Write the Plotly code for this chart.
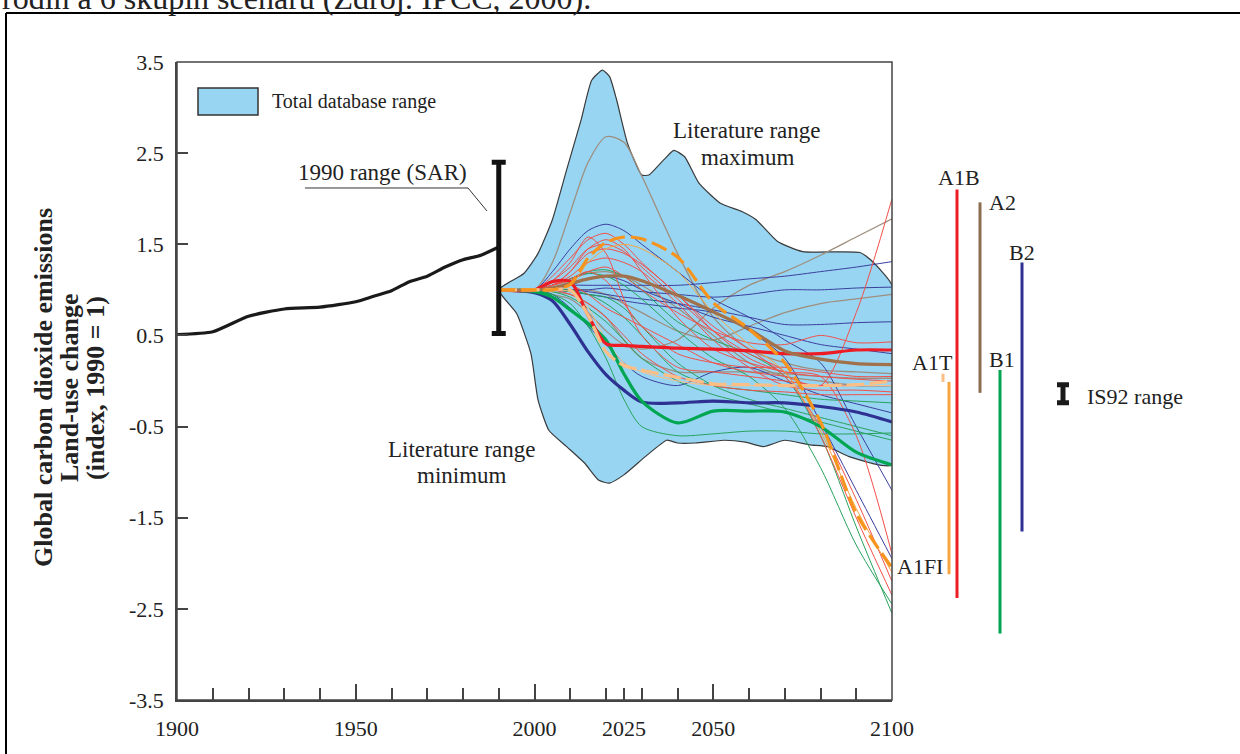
import plotly.graph_objects as go

# ---------------- DATA ----------------
HIST_YEARS = [1900, 1910, 1920, 1930, 1940, 1950, 1955, 1960, 1965, 1970, 1975, 1980, 1985, 1990]
HIST_VALUES = [0.51, 0.54, 0.71, 0.79, 0.81, 0.87, 0.93, 0.99, 1.09, 1.15, 1.25, 1.33, 1.38, 1.47]

RANGE_UPPER_YEARS = [1990, 1997, 2001, 2005, 2009, 2013, 2016, 2019, 2021, 2023, 2026, 2030, 2032, 2036,
                     2039, 2042, 2046, 2052, 2058, 2062, 2068, 2075, 2091, 2094, 2100]
RANGE_UPPER = [1.0, 1.18, 1.40, 1.77, 2.32, 2.86, 3.30, 3.41, 3.34, 3.08, 2.61, 2.26, 2.26, 2.42,
               2.53, 2.46, 2.17, 1.95, 1.86, 1.77, 1.53, 1.42, 1.41, 1.33, 1.05]
RANGE_LOWER_YEARS = [1990, 1995, 1999, 2001, 2004, 2009, 2014, 2018, 2021, 2025, 2031, 2037, 2040, 2045,
                     2053, 2059, 2064, 2070, 2077, 2082, 2088, 2100]
RANGE_LOWER = [1.0, 0.74, 0.30, -0.21, -0.54, -0.72, -0.90, -1.09, -1.12, -1.03, -0.83, -0.65, -0.68, -0.68,
               -0.65, -0.67, -0.72, -0.65, -0.70, -0.72, -0.83, -0.92]

SCEN_YEARS = [1990, 2000, 2005, 2010, 2015, 2020, 2025, 2030, 2040, 2050, 2060, 2070, 2080, 2090, 2100]

A1B_MARKER = [1.0, 1.0, 1.09, 1.09, 0.72, 0.41, 0.39, 0.38, 0.36, 0.35, 0.33, 0.30, 0.30, 0.34, 0.34]
A2_MARKER = [1.0, 1.0, 1.02, 1.07, 1.12, 1.15, 1.15, 1.10, 0.94, 0.76, 0.57, 0.33, 0.24, 0.19, 0.18]
B2_MARKER = [1.0, 0.97, 0.88, 0.62, 0.32, 0.07, -0.10, -0.23, -0.24, -0.22, -0.24, -0.24, -0.28, -0.34, -0.45]
B1_MARKER = [1.0, 0.98, 0.92, 0.78, 0.63, 0.45, 0.08, -0.22, -0.46, -0.33, -0.33, -0.34, -0.50, -0.78, -0.92]
A1FI_MARKER = [1.0, 1.0, 1.0, 1.06, 1.35, 1.52, 1.58, 1.56, 1.36, 0.86, 0.57, 0.20, -0.45, -1.45, -2.05]
A1T_MARKER = [1.0, 1.0, 1.0, 1.0, 0.72, 0.32, 0.17, 0.12, 0.04, -0.03, -0.04, -0.05, -0.05, -0.04, 0.0]

A1B_THIN = [
    [1, 1, 1.15, 1.35, 1.55, 1.62, 1.50, 1.30, 0.95, 0.60, 0.35, 0.05, -0.50, -1.30, -2.20],
    [1, 1, 1.10, 1.30, 1.58, 1.40, 0.90, 0.50, 0.15, 0.10, 0.05, 0.00, -0.05, -0.05, -0.05],
    [1, 1, 1.05, 1.20, 1.40, 1.45, 1.40, 1.28, 0.95, 0.55, 0.25, 0.10, 0.05, 0.02, 0.00],
    [1, 1, 1.05, 1.15, 1.30, 1.35, 1.30, 1.20, 0.85, 0.45, 0.15, -0.05, -0.10, -0.10, -0.12],
    [1, 1, 1.02, 1.05, 0.95, 0.80, 0.70, 0.60, 0.40, 0.20, 0.10, 0.05, -0.05, 0.75, 2.00],
    [1, 1, 1.05, 1.10, 1.20, 1.25, 1.15, 1.00, 0.75, 0.55, 0.42, 0.40, 0.50, 0.42, 0.43],
    [1, 1, 1.00, 0.95, 0.85, 0.70, 0.50, 0.30, 0.05, -0.05, -0.10, -0.12, -0.15, -0.15, -0.15],
    [1, 1, 1.10, 1.25, 1.45, 1.50, 1.42, 1.25, 0.90, 0.55, 0.30, 0.10, -0.60, -1.50, -2.35],
    [1, 1, 1.05, 1.12, 1.20, 1.10, 0.85, 0.60, 0.30, 0.20, 0.15, 0.15, 0.10, 0.05, 0.05],
    [1, 1, 1.05, 1.20, 1.45, 1.55, 1.45, 1.20, 0.70, 0.35, 0.20, 0.10, 0.05, -0.60, -1.90],
]
A2_THIN = [
    [1, 1, 1.30, 1.85, 2.40, 2.68, 2.62, 2.25, 1.40, 0.70, 0.35, 0.20, 0.12, 0.10, 0.08],
    [1, 1, 0.95, 0.90, 0.75, 0.55, 0.40, 0.35, 0.45, 0.80, 1.05, 1.20, 1.38, 1.58, 1.78],
    [1, 1, 1.00, 1.00, 1.00, 0.95, 0.85, 0.75, 0.55, 0.45, 0.60, 0.75, 0.85, 0.90, 0.95],
    [1, 1, 1.05, 1.12, 1.18, 1.20, 1.15, 1.05, 0.80, 0.50, 0.20, 0.05, 0.00, -0.05, -0.05],
    [1, 1, 0.98, 0.95, 0.85, 0.70, 0.45, 0.25, 0.10, 0.10, 0.10, 0.08, 0.05, 0.03, 0.03],
]
B2_THIN = [
    [1, 1, 1.20, 1.45, 1.65, 1.72, 1.65, 1.50, 1.20, 0.90, 0.70, 0.45, 0.20, -0.50, -1.20],
    [1, 1, 1.02, 1.05, 1.05, 1.05, 1.05, 1.05, 1.05, 1.08, 1.12, 1.15, 1.20, 1.25, 1.31],
    [1, 1, 1.00, 1.00, 1.00, 1.02, 1.00, 0.98, 0.95, 0.92, 0.95, 1.00, 1.00, 1.02, 1.03],
    [1, 1, 1.00, 1.00, 0.98, 0.95, 0.92, 0.90, 0.85, 0.78, 0.70, 0.62, 0.62, 0.64, 0.65],
    [1, 1, 1.00, 0.98, 0.95, 0.92, 0.88, 0.85, 0.80, 0.75, 0.55, 0.25, -0.45, -1.20, -1.95],
    [1, 1, 0.95, 0.80, 0.60, 0.40, 0.20, 0.05, -0.05, 0.10, 0.15, 0.00, -0.15, -0.25, -0.35],
    [1, 1, 1.00, 1.05, 1.12, 1.15, 1.10, 1.00, 0.85, 0.70, 0.60, 0.50, 0.40, 0.35, 0.30],
]
B1_THIN = [
    [1, 1, 1.05, 1.12, 1.20, 1.22, 1.15, 1.00, 0.65, 0.45, 0.30, 0.05, -0.60, -1.60, -2.55],
    [1, 1, 0.95, 0.85, 0.60, 0.25, -0.20, -0.50, -0.60, -0.58, -0.55, -0.55, -0.58, -0.58, -0.57],
    [1, 1, 1.00, 0.98, 0.95, 0.85, 0.70, 0.50, 0.10, -0.05, -0.10, -0.15, -0.20, -0.22, -0.24],
    [1, 1, 1.05, 1.12, 1.18, 1.15, 1.05, 0.90, 0.55, 0.25, 0.05, -0.30, -0.95, -1.80, -2.45],
    [1, 1, 0.98, 0.92, 0.80, 0.65, 0.45, 0.25, 0.00, -0.15, -0.25, -0.35, -0.45, -0.55, -0.65],
    [1, 1, 1.00, 1.00, 0.95, 0.92, 0.80, 0.60, 0.20, -0.05, -0.20, -0.30, -0.40, -0.50, -0.60],
]
A1FI_THIN = [
    [1, 1, 1.00, 1.05, 1.30, 1.45, 1.50, 1.45, 1.20, 0.75, 0.40, 0.10, -0.55, -1.40, -2.10],
]
A1T_THIN = [
    [1, 1, 1.00, 0.98, 0.80, 0.45, 0.20, 0.10, 0.00, -0.05, -0.05, -0.05, -0.06, -0.05, -0.05],
]

SAR_1990_RANGE = [0.52, 2.40]          # 1990 range (SAR)
IS92_RANGE = [-0.24, -0.04]            # IS92 range
GROUP_NAMES = ["A1T", "A1FI", "A1B", "A2", "B1", "B2"]
GROUP_LOW = [-0.01, -2.12, -2.38, -0.13, -2.77, -1.65]
GROUP_HIGH = [0.08, -0.01, 2.10, 1.96, 0.12, 1.30]

X_TICKS = [1900, 1910, 1920, 1930, 1940, 1950, 1960, 1970, 1980, 1990, 2000, 2010, 2020, 2025,
           2030, 2040, 2050, 2060, 2070, 2080, 2090, 2100]
X_LABELED = [1900, 1950, 2000, 2025, 2050, 2100]
X_LONG_TICKS = [1950, 2000, 2050]
Y_TICKS = [3.5, 2.5, 1.5, 0.5, -0.5, -1.5, -2.5, -3.5]
Y_LABELS = ["3.5", "2.5", "1.5", "0.5", "-0.5", "-1.5", "-2.5", "-3.5"]

# ---------------- STYLE / LAYOUT ----------------
W, H = 1240, 754
ML, MT, MB = 177, 62, 54
PLOT_RIGHT = 892
FONT = "Liberation Serif"
TXT = "#222222"
AX = "#444444"

# horizontal column offsets (px right of plot edge) for the group range bars
GROUP_POS = [51, 57, 65, 88, 108, 130]
GROUP_COL = ["#fbbf86", "#f7a541", "#ed1c24", "#8c6d4f", "#00a651", "#2e3192"]
IS92_POS = 171


def px(x):
    return (x - ML) / (W - ML)


def py(y):
    return (H - MB - y) / (H - MT - MB)


fig = go.Figure()

# total database range
fig.add_trace(go.Scatter(
    x=RANGE_UPPER_YEARS + RANGE_LOWER_YEARS[::-1],
    y=RANGE_UPPER + RANGE_LOWER[::-1],
    fill="toself", fillcolor="#98d5f2", mode="lines",
    line=dict(color="#3a3a3a", width=1.2, shape="spline", smoothing=0.5),
    hoverinfo="skip", showlegend=False))

thin_sets = [
    (A2_THIN, "#9e8e7e", 1.3),
    (B2_THIN, "#3b3f9e", 1.0),
    (B1_THIN, "#27a35c", 1.0),
    (A1B_THIN, "#f2504a", 1.0),
    (A1FI_THIN, "#f7a541", 1.0),
    (A1T_THIN, "#fbbf86", 1.0),
]
for lines, col, wid in thin_sets:
    for vals in lines:
        fig.add_trace(go.Scatter(x=SCEN_YEARS, y=vals, mode="lines",
                                 line=dict(color=col, width=wid, shape="spline", smoothing=0.8),
                                 hoverinfo="skip", showlegend=False))

markers = [
    (B2_MARKER, "#2e3192", None),
    (B1_MARKER, "#00a651", None),
    (A1B_MARKER, "#ed1c24", None),
    (A2_MARKER, "#a0714a", None),
    (A1T_MARKER, "#fbbf86", "18px,5px"),
    (A1FI_MARKER, "#f7941d", "16px,6px"),
]
for vals, col, dash in markers:
    fig.add_trace(go.Scatter(x=SCEN_YEARS, y=vals, mode="lines",
                             line=dict(color=col, width=3.2, shape="spline", smoothing=0.8,
                                       dash=dash if dash else "solid"),
                             hoverinfo="skip", showlegend=False))

# historical line
fig.add_trace(go.Scatter(x=HIST_YEARS, y=HIST_VALUES, mode="lines",
                         line=dict(color="#1a1a1a", width=3.2, shape="spline", smoothing=0.6),
                         hoverinfo="skip", showlegend=False))

# 1990 SAR range bar
mid = (SAR_1990_RANGE[0] + SAR_1990_RANGE[1]) / 2
fig.add_trace(go.Scatter(
    x=[1990], y=[mid], mode="markers", marker=dict(size=1, color="rgba(0,0,0,0)"),
    error_y=dict(type="data", symmetric=False, array=[SAR_1990_RANGE[1] - mid],
                 arrayminus=[mid - SAR_1990_RANGE[0]], width=7, thickness=5, color="#111111"),
    hoverinfo="skip", showlegend=False, cliponaxis=False))

# group range bars on right (x2)
for pos, lo, hi, col in zip(GROUP_POS, GROUP_LOW, GROUP_HIGH, GROUP_COL):
    fig.add_trace(go.Scatter(x=[pos, pos], y=[lo, hi], mode="lines", xaxis="x2", yaxis="y",
                             line=dict(color=col, width=3), hoverinfo="skip", showlegend=False))

mid92 = (IS92_RANGE[0] + IS92_RANGE[1]) / 2
fig.add_trace(go.Scatter(
    x=[IS92_POS], y=[mid92], mode="markers", xaxis="x2", yaxis="y",
    marker=dict(size=1, color="rgba(0,0,0,0)"),
    error_y=dict(type="data", symmetric=False, array=[IS92_RANGE[1] - mid92],
                 arrayminus=[mid92 - IS92_RANGE[0]], width=6, thickness=5, color="#1a1a1a"),
    hoverinfo="skip", showlegend=False))

# dummy trace for long-tick overlay axis
fig.add_trace(go.Scatter(x=[None], y=[None], xaxis="x3", yaxis="y", showlegend=False, hoverinfo="skip"))

xdom = (PLOT_RIGHT - ML) / (W - ML)

ann = []


def text(x, y, s, size=23, xanchor="center", yanchor="middle", bold=False, angle=0):
    ann.append(dict(x=px(x), y=py(y), xref="paper", yref="paper", text=("<b>%s</b>" % s) if bold else s,
                    showarrow=False, xanchor=xanchor, yanchor=yanchor, textangle=angle,
                    font=dict(family=FONT, size=size, color=TXT)))


text(0, -2, "rodin a 6 skupin scénářů (Zdroj: IPCC, 2000).", size=32, xanchor="left")
text(270, 101, "Total database range", size=20, xanchor="left")
text(382, 173, "1990 range (SAR)")
text(747, 130, "Literature range")
text(747, 157, "maximum")
text(462, 449, "Literature range")
text(462, 476, "minimum")
text(959, 178, "A1B", size=22)
text(987, 202, "A2", size=22, xanchor="left")
text(1022, 253, "B2", size=22)
text(1002, 359, "B1", size=22)
text(932, 362, "A1T", size=22)
text(920, 566, "A1FI", size=22)
text(1085, 396, "IS92 range", size=22, xanchor="left")
text(43, 388, "Global carbon dioxide emissions", size=26, bold=True, angle=-90)
text(69, 388, "Land-use change", size=26, bold=True, angle=-90)
text(95, 388, "(index, 1990 = 1)", size=26, bold=True, angle=-90)

shapes = [
    # plot frame
    dict(type="rect", xref="x domain", yref="y domain", x0=0, x1=1, y0=0, y1=1,
         line=dict(color=AX, width=1.5)),
    # legend swatch
    dict(type="rect", xref="paper", yref="paper", x0=px(198), x1=px(258), y0=py(115), y1=py(88),
         fillcolor="#98d5f2", line=dict(color="#333333", width=1.5)),
    # SAR leader line
    dict(type="path", xref="paper", yref="paper",
         path="M %f,%f L %f,%f L %f,%f" % (px(305), py(188), px(468), py(188), px(487), py(211)),
         line=dict(color="#333333", width=1)),
    # outer frame of the page
    dict(type="line", xref="paper", yref="paper", x0=px(6), x1=px(1240), y0=py(13), y1=py(13),
         line=dict(color="#000000", width=2)),
    dict(type="line", xref="paper", yref="paper", x0=px(6), x1=px(6), y0=py(13), y1=py(760),
         line=dict(color="#000000", width=2)),
]

fig.update_layout(
    width=W, height=H, autosize=False,
    margin=dict(l=ML, r=0, t=MT, b=MB, pad=0, autoexpand=False),
    paper_bgcolor="white", plot_bgcolor="white", showlegend=False,
    xaxis=dict(domain=[0, xdom], range=[1900, 2100], tickvals=X_TICKS,
               ticktext=[str(v) if v in X_LABELED else "" for v in X_TICKS],
               ticks="inside", ticklen=12, tickwidth=1.5, tickcolor=AX,
               showline=True, linecolor=AX, linewidth=1.5, showgrid=False, zeroline=False,
               tickfont=dict(family=FONT, size=22, color=TXT), ticklabelstandoff=8, anchor="y"),
    xaxis3=dict(overlaying="x", anchor="y", range=[1900, 2100], tickvals=X_LONG_TICKS,
                ticks="inside", ticklen=16, tickwidth=1.5, tickcolor=AX, showticklabels=False,
                showline=False, showgrid=False, zeroline=False, side="bottom"),
    xaxis2=dict(domain=[xdom, 1], range=[0, W - PLOT_RIGHT], visible=False, anchor="y"),
    yaxis=dict(range=[-3.5, 3.5], tickvals=Y_TICKS, ticktext=Y_LABELS, ticks="inside", ticklen=11,
               tickwidth=1.5, tickcolor=AX, showline=True, linecolor=AX, linewidth=1.5,
               showgrid=False, zeroline=False, tickfont=dict(family=FONT, size=22, color=TXT),
               ticklabelstandoff=7),
    annotations=ann, shapes=shapes,
)

fig.write_html("out.html", config={"responsive": False})
